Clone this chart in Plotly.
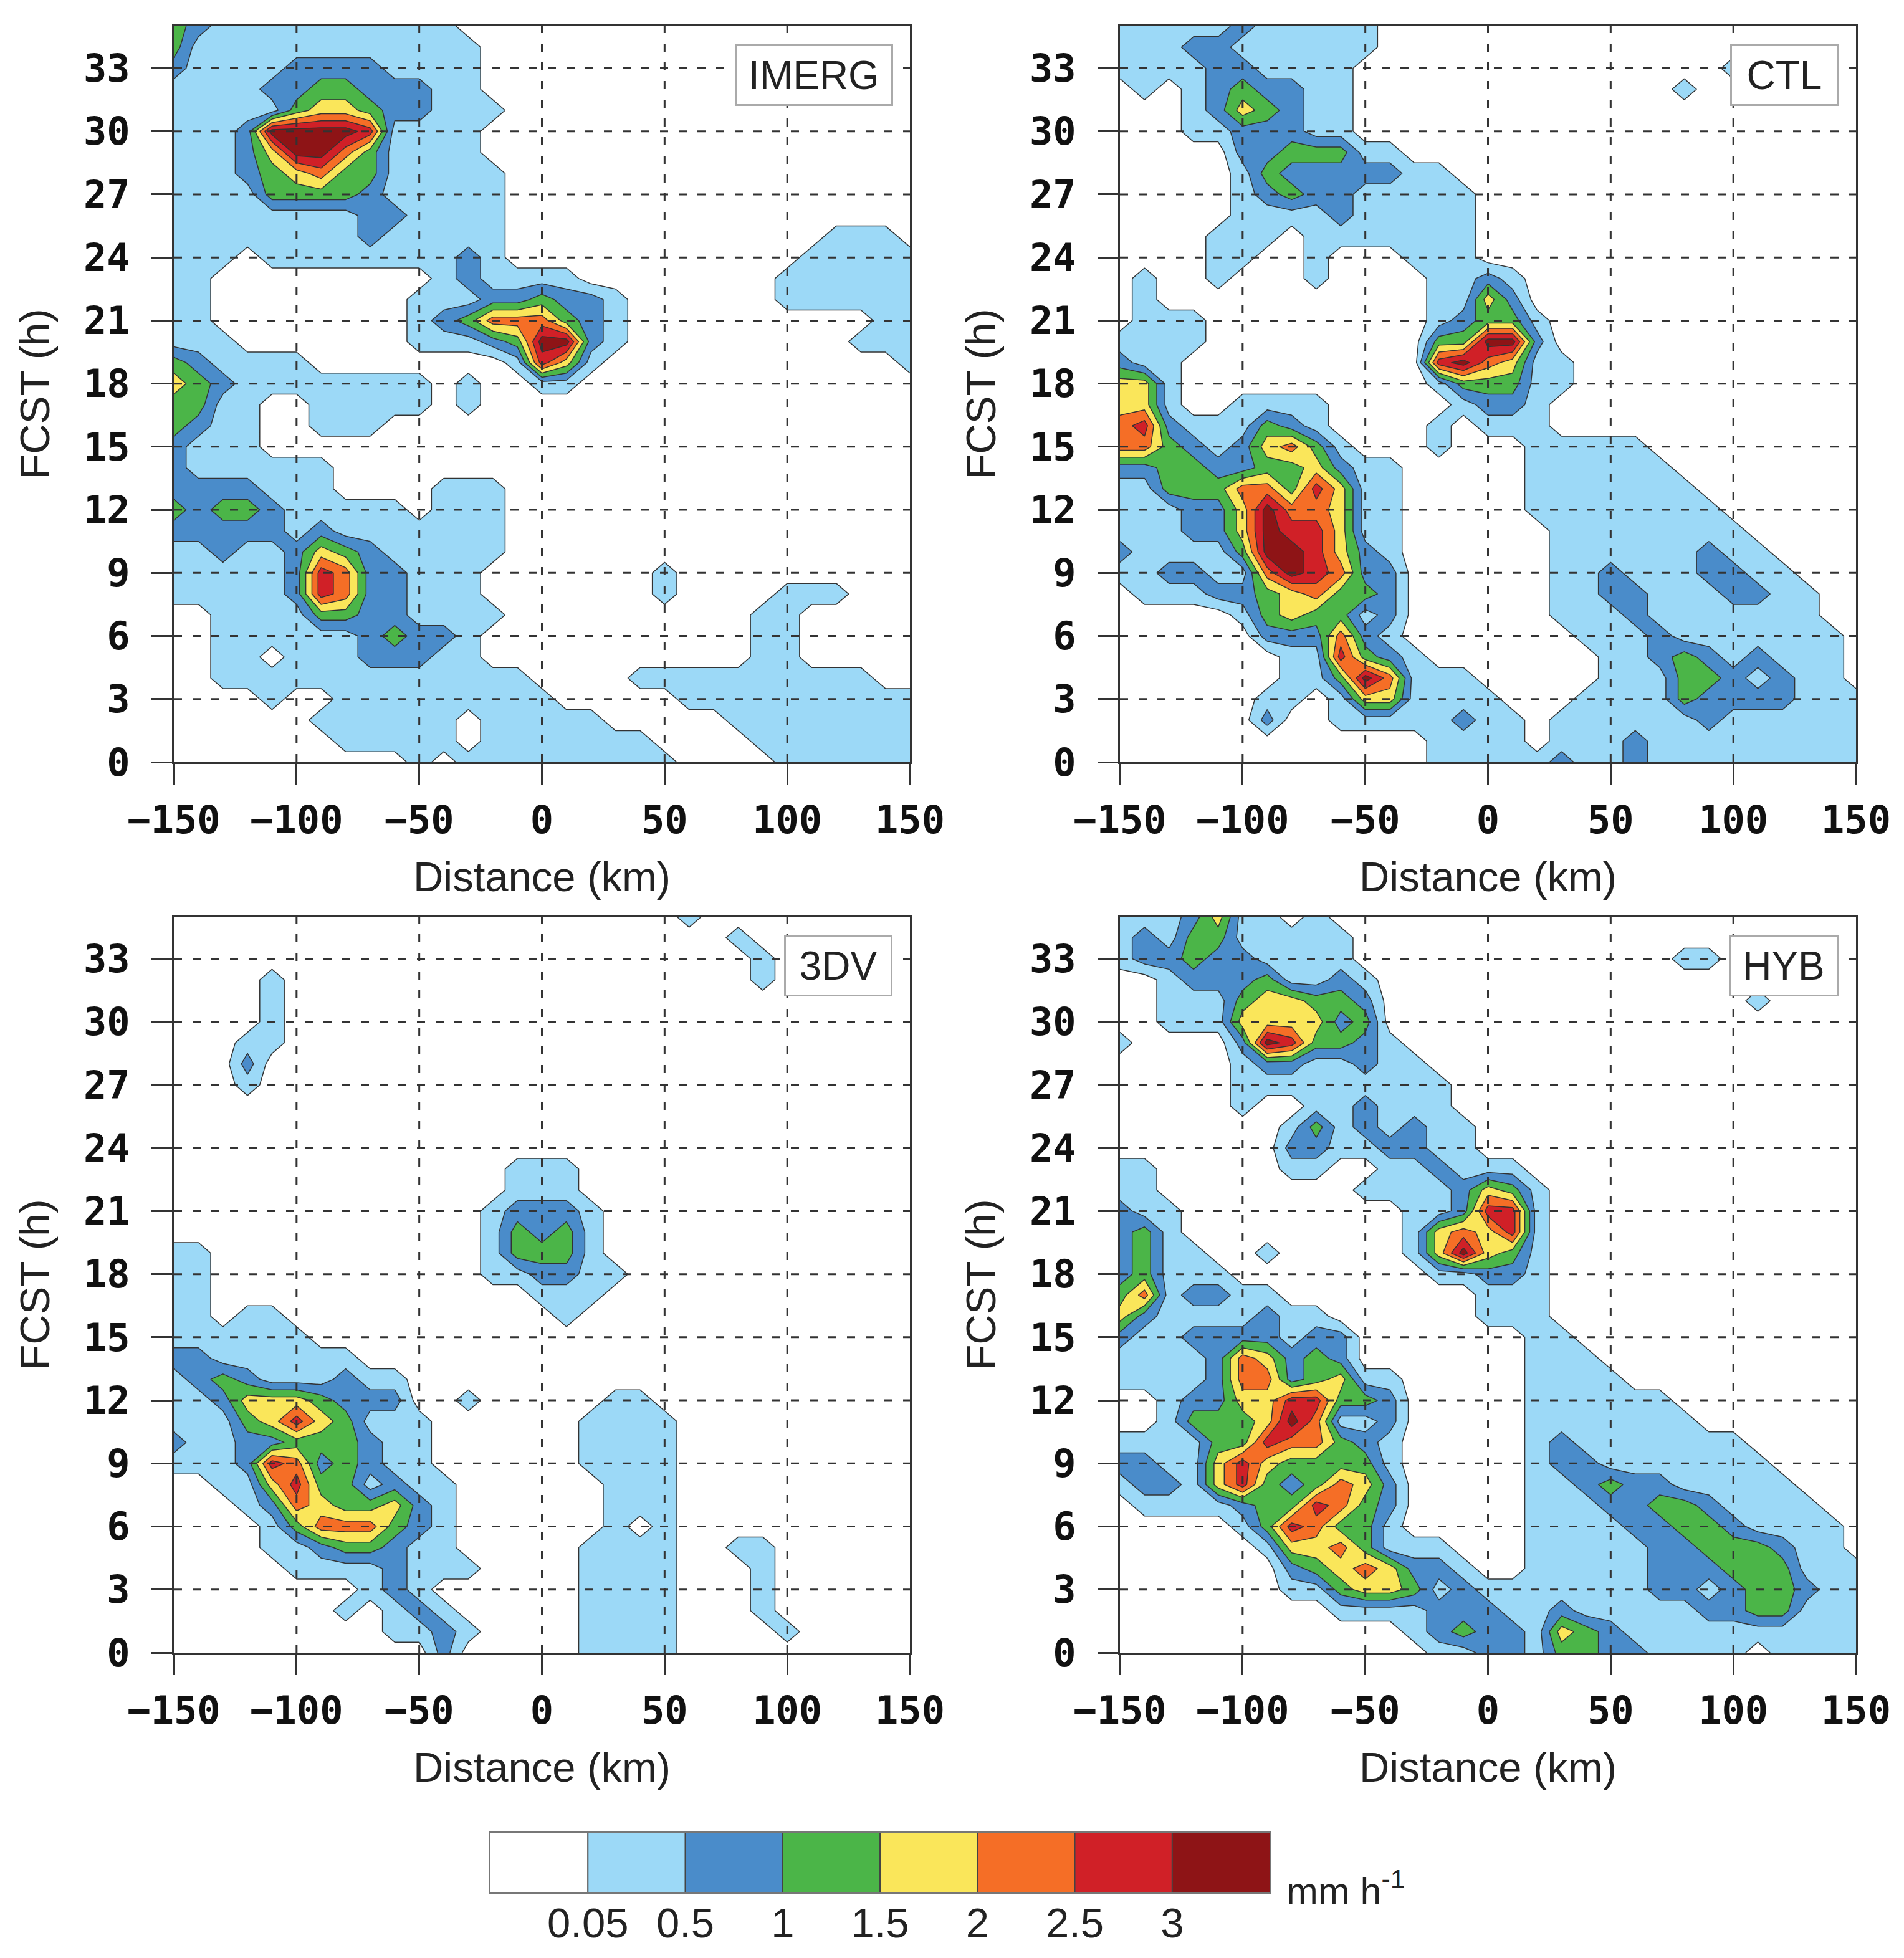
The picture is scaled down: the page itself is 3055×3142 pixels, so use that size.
import plotly.graph_objects as go

W, H = 3055, 3142
PAGE = 8  # the page's own margin around the figure
DIST = list(range(-150, 151, 10))
HOURS = list(range(35, -1, -1))
X_TICKS = [-150, -100, -50, 0, 50, 100, 150]
Y_TICKS = [0, 3, 6, 9, 12, 15, 18, 21, 24, 27, 30, 33]
LEVEL_LABELS = ["0.05", "0.5", "1", "1.5", "2", "2.5", "3"]
CLASSES = [0, 1, 2, 3, 4, 5, 6, 7]
COLORS = ["#FFFFFF", "#9CD9F7", "#4A8CCA", "#4BB548", "#FAE65A", "#F56E26", "#D02027", "#8E1416"]

# rain-rate class per cell (0: <0.05, 1: 0.05-0.5, 2: 0.5-1, ... 7: >3 mm/h); rows run from 35 h down to 0 h
IMERG = [
 "321111111111"+"0"*19,
 "3111111111111"+"0"*18,
 "2111122221111"+"0"*18,
 "1111223322211"+"0"*18,
 "11111344322111"+"0"*17,
 "1112777761111"+"0"*18,
 "1112477531111"+"0"*18,
 "11123453311111"+"0"*17,
 "11113333211111"+"0"*17,
 "11111111221111"+"0"*17,
 "11111111211111"+"0"*13+"1110",
 "1110"+"11111111"+"210"+"0"*11+"11111",
 "11"+"0"*9+"121111"+"0"*8+"111111",
 "11"+"0"*8+"111223221"+"0"*6+"111111",
 "11"+"0"*8+"123555321"+"0"*10+"11",
 "111"+"0"*7+"111237721"+"0"*9+"111",
 "321111"+"0"*8+"1641"+"0"*12+"1",
 "43211111111"+"0100"+"11"+"0"*14,
 "3311"+"00"+"11111"+"0"+"1"+"0"*18,
 "32110011100"+"0"*20,
 "2111"+"0"*27,
 "2111111"+"0"*24,
 "22221110000111"+"0"*17,
 "32332111110111"+"0"*17,
 "22222121111111"+"0"*17,
 "11211243211111"+"0"*17,
 "11111"+"26522111"+"0"*7+"1"+"0"*10,
 "11111"+"26522"+"111"+"0"*7+"1"+"0000"+"111"+"000",
 "00111133221111"+"0"*10+"11"+"00000",
 "00111111232210"+"0"*10+"11"+"00000",
 "00110111222110"+"0"*10+"11"+"00000",
 "00"+"1"*13+"0000"+"1"*10+"00",
 "0000"+"1"+"00"+"1"*9+"00000"+"1"*10,
 "000000"+"111111"+"0"+"11111"+"00000"+"1"*8,
 "0"*7+"11111"+"0"+"1"*7+"0000"+"1"*7,
 "0"*10+"1"+"0"+"1"*9+"0000"+"1"*6,
]
CTL = [
 "11111211111"+"0"*20,
 "11122111111"+"0"*20,
 "1111221111"+"0"*15+"1"+"0"*5,
 "0101232211"+"0"*13+"1"+"0"*7,
 "0001243211"+"0"*21,
 "0001122211"+"0"*21,
 "00000"+"2233311"+"0"*19,
 "00000"+"132222211"+"0"*17,
 "00000"+"1232211111"+"0"*16,
 "00000"+"1111211111"+"0"*16,
 "0000"+"11101111111"+"0"*16,
 "0000"+"11001000111"+"0"*16,
 "01001000100001121"+"0"*14,
 "01"+"0"*11+"1142"+"0"*14,
 "0111"+"0"*9+"12331"+"0"*13,
 "1111"+"0"*8+"0"+"33772"+"0"*13,
 "2110"+"0"*8+"0"+"67541"+"1"+"0"*12,
 "4410"+"0"*9+"133311"+"0"*12,
 "441001111"+"00000"+"1221"+"0"*13,
 "562111321000010"+"1110000000000000",
 "553212453100010"+"0011111000000000",
 "223322334211000"+"0011111100000000",
 "113335536411000"+"0011111110000000",
 "111224755411000"+"0011111111000000",
 "111224766411000"+"0001111111100000",
 "211113776421000"+"0001111112110000",
 "112211576522000"+"0001121112211000",
 "011122345332000"+"0001122111221100",
 "000001343312000"+"0001112111111100",
 "000000222521000"+"0000111211111110",
 "000000011632100"+"0000011232121110",
 "000000011375111"+"0000011133212110",
 "000000110144111"+"1000111132222111",
 "000000200111112"+"1101111112111111",
 "000000000000011"+"1101112111111111",
 "000000000000011"+"1112112111111111",
]
DV3 = [
 "0"*21+"1"+"0"*9,
 "0"*23+"1"+"0"*7,
 "0"*24+"1"+"0"*6,
 "00001"+"0"*19+"1"+"0"*6,
 "00001"+"0"*26,
 "00001"+"0"*26,
 "00011"+"0"*26,
 "00020"+"0"*26,
 "00010"+"0"*26,
 "0"*31,
 "0"*31,
 "0"*31,
 "0"*14+"111"+"0"*14,
 "0"*14+"111"+"0"*14,
 "0"*13+"12221"+"0"*13,
 "0"*13+"13231"+"0"*13,
 "11"+"0"*11+"13331"+"0"*13,
 "11"+"0"*11+"112211"+"0"*12,
 "11"+"0"*13+"111"+"0"*13,
 "11011"+"0"*11+"1"+"0"*14,
 "111111"+"0"*25,
 "22111111"+"0"*23,
 "1232111211"+"0"*21,
 "112444322200100"+"0001100000000000",
 "111346431110000"+"0011110000000000",
 "211223332110000"+"0011110000000000",
 "111265232110000"+"0011110000000000",
 "001146331211000"+"0001110000000000",
 "000125433421000"+"0001110000000000",
 "000013555321000"+"0001010000000000",
 "000011233211000"+"0011110011000000",
 "000001111211100"+"0011110001000000",
 "00000000"+"121"+"0000"+"0011110001000000",
 "0000000"+"10121"+"000"+"0011110001000000",
 "000000000"+"112100"+"0011110000100000",
 "00000000000"+"2"+"000"+"0011110000000000",
]
HYB = [
 "1112411010"+"0"*21,
 "12133111110"+"0"*20,
 "12232211110"+"0"*12+"11"+"0"*6,
 "001222311210"+"0"*19,
 "001113443320"+"0"*14+"1"+"0"*4,
 "001114444230"+"0"*19,
 "1000027633210"+"0"*18,
 "0000012211211"+"0"*18,
 "00000111111111"+"0"*17,
 "000001001121110"+"0"*16,
 "000000013121211"+"0"*16,
 "000000022112211"+"0"*16,
 "11000001100112111"+"0"*14,
 "110000000011112"+"4310000000000000",
 "211"+"0"*9+"112"+"6610000000000000",
 "231"+"0"*9+"145"+"4610000000000000",
 "2311001"+"00000"+"147"+"4310000000000000",
 "23111"+"0"*8+"11"+"2210000000000000",
 "3512211"+"0"*8+"1110000000000000",
 "421111211"+"000000"+"1110000000000000",
 "211222212200000"+"0011000000000000",
 "111125423200000"+"0011100000000000",
 "111125523411000"+"0011110000000000",
 "001224466332000"+"0011111100000000",
 "001333475112000"+"0011111110000000",
 "111133655321000"+"0012111111100000",
 "221146433331000"+"0012211111110000",
 "122146323542000"+"0011232211111000",
 "011112336532000"+"0011122332111100",
 "000001365331000"+"0011112233211110",
 "000000144531110"+"0011111223332110",
 "000000023454221"+"0011111222333111",
 "000000011344312"+"1111111221233211",
 "000000000111122"+"2112111112233111",
 "000000000000123"+"2214321111111111",
 "000000000000011"+"2213322111101111",
]

def grid(rows):
    return [[int(c) for c in (r + "0" * 31)[:31]] for r in rows]

def px(v):
    return (v - PAGE) / W

def py(v):
    return 1 - (v - PAGE) / H

colorscale = [[i / 7, c] for i, c in enumerate(COLORS)]
PANELS = [("IMERG", IMERG, "x", "y", 279, 42, 1179, 71, 248),
          ("CTL", CTL, "x2", "y2", 1797, 42, 2776, 71, 168),
          ("3DV", DV3, "x3", "y3", 279, 1471, 1258, 1500, 168),
          ("HYB", HYB, "x4", "y4", 1797, 1471, 2774, 1500, 170)]
PANEL_PX = 1181

fig = go.Figure()
layout = dict(width=W, height=H, margin=dict(l=0, r=0, t=0, b=0), paper_bgcolor="white",
              plot_bgcolor="white", showlegend=False)
shapes, annotations = [], []
for n, (name, rows, xa, ya, left, top, bx, by, bw) in enumerate(PANELS):
    fig.add_trace(go.Contour(x=DIST, y=HOURS, z=grid(rows), xaxis=xa, yaxis=ya,
                             colorscale=colorscale, zmin=0, zmax=7, autocontour=False,
                             contours=dict(start=0.5, end=6.5, size=1, coloring="fill"),
                             line=dict(color="#333333", width=1.5, smoothing=0),
                             showscale=False, hoverinfo="skip"))
    suffix = "" if n == 0 else str(n + 1)
    axis_common = dict(showline=True, linecolor="#333333", linewidth=3, mirror=True, showgrid=False,
                       zeroline=False, ticks="outside", ticklen=33, tickwidth=3, tickcolor="#333333",
                       tickmode="array", automargin=False,
                       tickfont=dict(family="DejaVu Sans Mono", size=62, color="#111111", weight="bold"))
    layout["xaxis" + suffix] = dict(axis_common, domain=[px(left), px(left + PANEL_PX)], range=[-150, 150],
                                    tickvals=X_TICKS, anchor=ya, ticklabelstandoff=4,
                                    title=dict(text="Distance (km)", standoff=32,
                                               font=dict(family="Liberation Sans", size=67, color="#222222")))
    layout["yaxis" + suffix] = dict(axis_common, domain=[py(top + PANEL_PX), py(top)], range=[0, 35],
                                    tickvals=Y_TICKS, anchor=xa, ticklabelstandoff=22,
                                    title=dict(text="FCST (h)", standoff=33,
                                               font=dict(family="Liberation Sans", size=67, color="#222222")))
    grid_line = dict(color="#333333", width=3, dash="13px,17px")
    for t in X_TICKS[1:-1]:
        shapes.append(dict(type="line", xref=xa, yref=ya, x0=t, x1=t, y0=0, y1=35, line=grid_line, layer="above"))
    for t in Y_TICKS[1:]:
        shapes.append(dict(type="line", xref=xa, yref=ya, x0=-150, x1=150, y0=t, y1=t, line=grid_line, layer="above"))
    annotations.append(dict(text=name, xref="paper", yref="paper", x=px(bx), y=py(by), xanchor="left",
                            yanchor="top", showarrow=False, width=bw, height=93, borderpad=0, align="center",
                            valign="middle", bgcolor="white", bordercolor="#AAAAAA", borderwidth=3,
                            font=dict(family="Liberation Sans", size=64, color="#222222")))

# colour key: one cell per rain-rate class, on its own axes, with the contour levels as tick labels
BOUNDS = [i + 0.5 for i in CLASSES[:-1]]
fig.add_trace(go.Heatmap(x=CLASSES, y=[0], z=[CLASSES], xaxis="x5", yaxis="y5", colorscale=colorscale,
                         zmin=0, zmax=7, showscale=False, hoverinfo="skip"))
layout["xaxis5"] = dict(domain=[px(787), px(2037)], range=[-0.5, 7.5], anchor="y5", showline=True, mirror=True,
                        linecolor="#777777", linewidth=3, showgrid=False, zeroline=False, ticks="", tickmode="array",
                        tickvals=BOUNDS, ticktext=LEVEL_LABELS, ticklabelstandoff=-10, automargin=False,
                        tickfont=dict(family="Liberation Sans", size=67, color="#222222"))
layout["yaxis5"] = dict(domain=[py(3036), py(2942)], range=[-0.5, 0.5], anchor="x5", showline=True, mirror=True,
                        linecolor="#777777", linewidth=3, showgrid=False, zeroline=False, ticks="",
                        showticklabels=False, automargin=False)
for b in BOUNDS:
    shapes.append(dict(type="line", xref="x5", yref="y5", x0=b, x1=b, y0=-0.5, y1=0.5,
                       line=dict(color="#444444", width=2), layer="above"))
annotations.append(dict(text="mm h<sup>-1</sup>", xref="paper", yref="paper", x=px(2062), y=py(3030),
                        xanchor="left", yanchor="middle", showarrow=False,
                        font=dict(family="Liberation Sans", size=61, color="#222222")))
layout["shapes"] = shapes
layout["annotations"] = annotations
fig.update_layout(**layout)
fig.write_html("out.html")
